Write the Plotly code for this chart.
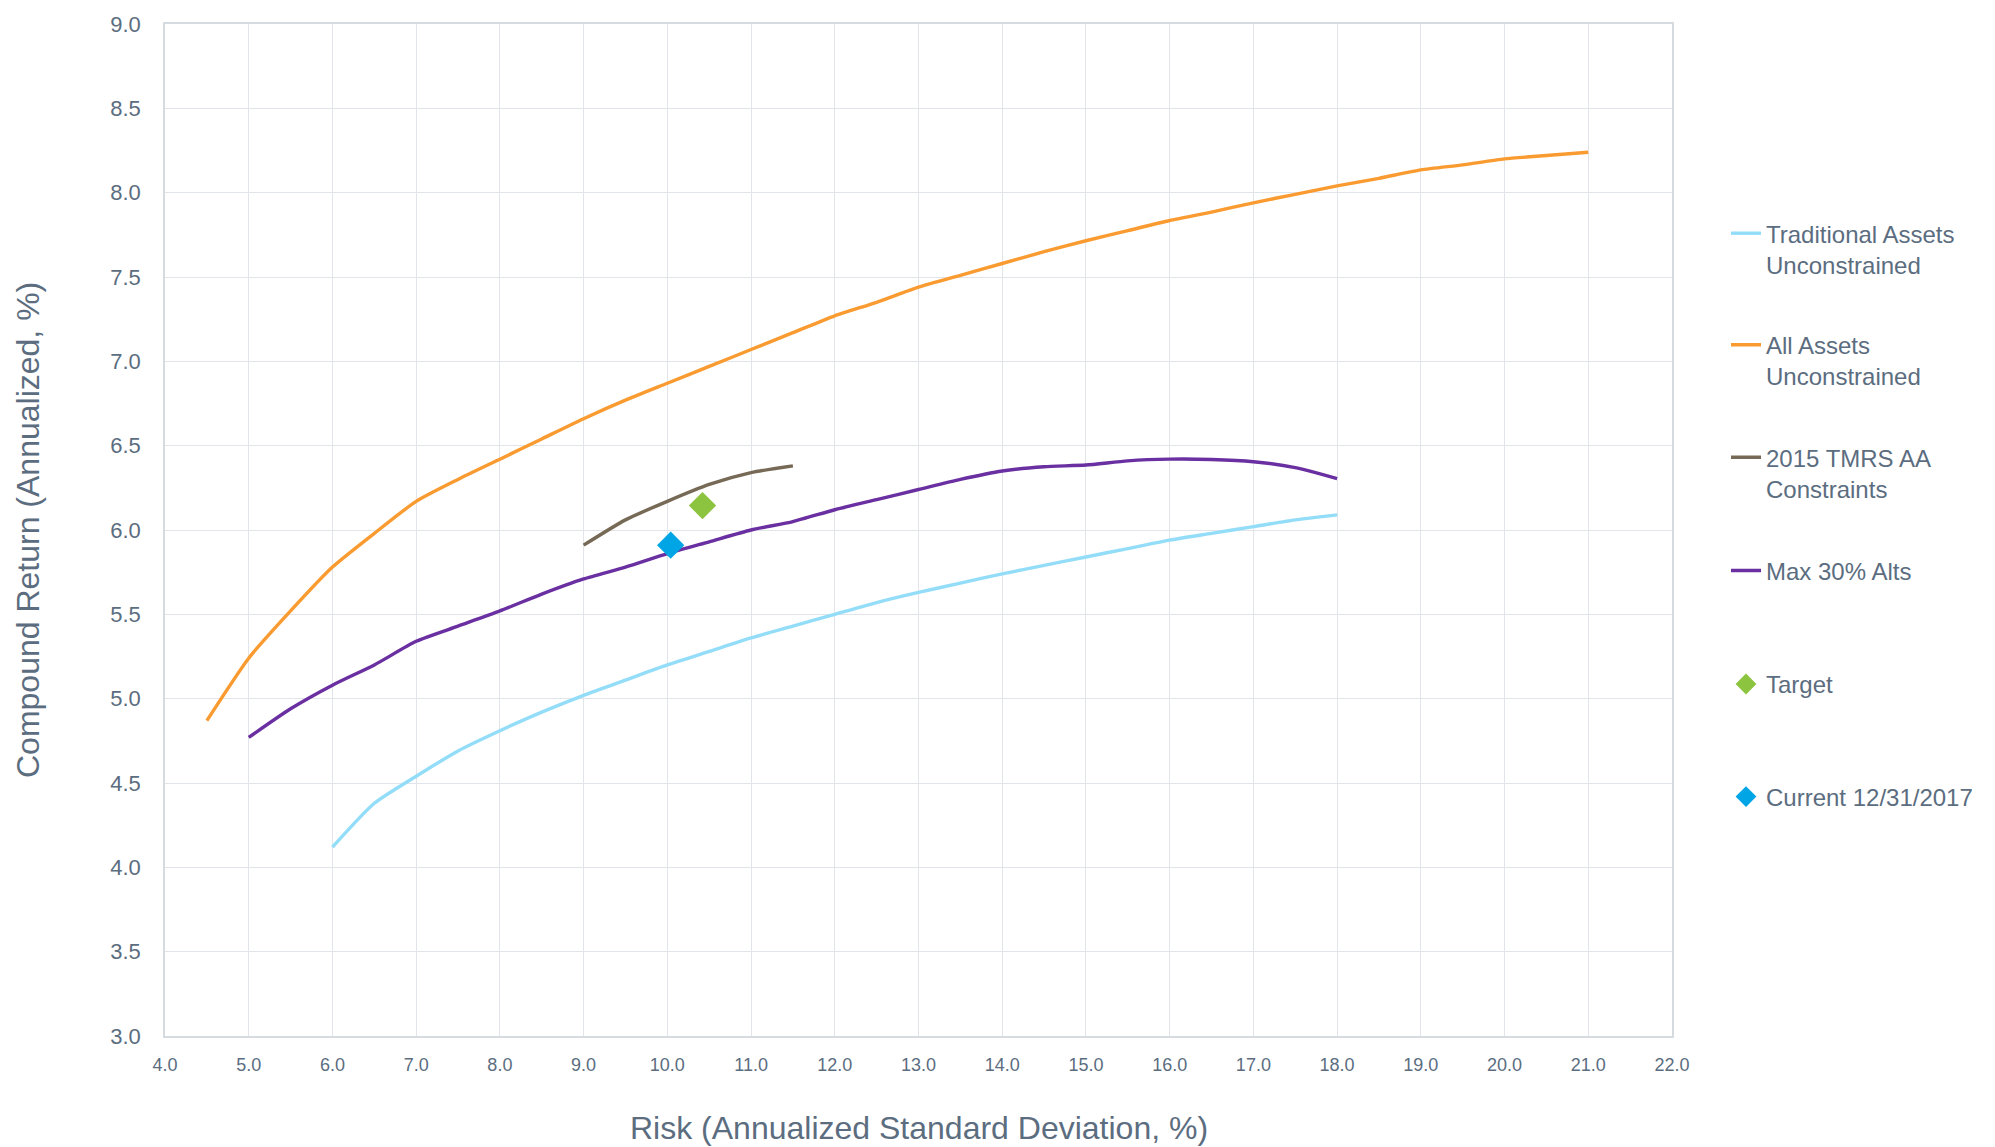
import plotly.graph_objects as go

# Efficient frontier curves: risk (x) vs compound return (y)
trad_risk = [6.0, 6.5, 7.0, 7.5, 8.0, 8.5, 9.0, 9.5, 10.0, 10.5, 11.0, 11.5, 12.0,
             12.5, 13.0, 13.5, 14.0, 14.5, 15.0, 15.5, 16.0, 16.5, 17.0, 17.5, 18.0]
trad_ret = [4.12, 4.38, 4.54, 4.69, 4.81, 4.92, 5.02, 5.11, 5.20, 5.28, 5.36, 5.43, 5.50,
            5.57, 5.63, 5.685, 5.74, 5.79, 5.84, 5.89, 5.94, 5.98, 6.02, 6.06, 6.09]

all_risk = [4.5, 5.0, 5.5, 6.0, 6.5, 7.0, 7.5, 8.0, 8.5, 9.0, 9.5, 10.0, 10.5, 11.0,
            11.5, 12.0, 12.5, 13.0, 13.5, 14.0, 14.5, 15.0, 15.5, 16.0, 16.5, 17.0,
            17.5, 18.0, 18.5, 19.0, 19.5, 20.0, 20.5, 21.0]
all_ret = [4.87, 5.24, 5.52, 5.78, 5.98, 6.17, 6.30, 6.42, 6.54, 6.66, 6.77, 6.87, 6.97, 7.07,
           7.17, 7.27, 7.35, 7.44, 7.51, 7.58, 7.65, 7.715, 7.775, 7.835, 7.885, 7.94,
           7.99, 8.04, 8.085, 8.135, 8.165, 8.20, 8.22, 8.24]

tmrs_risk = [9.0, 9.5, 10.0, 10.5, 11.0, 11.5]
tmrs_ret = [5.91, 6.06, 6.17, 6.27, 6.34, 6.38]

alts_risk = [5.0, 5.5, 6.0, 6.5, 7.0, 7.5, 8.0, 8.5, 9.0, 9.5, 10.0, 10.5, 11.0, 11.5,
             12.0, 12.5, 13.0, 13.5, 14.0, 14.5, 15.0, 15.5, 16.0, 16.5, 17.0, 17.5, 18.0]
alts_ret = [4.77, 4.94, 5.08, 5.20, 5.34, 5.43, 5.52, 5.62, 5.71, 5.78, 5.86, 5.93, 6.00, 6.05,
            6.12, 6.18, 6.24, 6.30, 6.35, 6.375, 6.385, 6.41, 6.42, 6.418, 6.405, 6.37, 6.305]

target_risk = [10.42]
target_ret = [6.145]
current_risk = [10.04]
current_ret = [5.91]

names = ["Traditional Assets<br>Unconstrained", "All Assets<br>Unconstrained",
         "2015 TMRS AA<br>Constraints", "Max 30% Alts", "Target", "Current 12/31/2017"]

x_ticks = [4.0 + i for i in range(19)]
y_ticks = [3.0 + 0.5 * i for i in range(13)]

TEXT = "#5B6D7F"
GRID = "#E1E5E9"
FONT = "Arial, Liberation Sans, sans-serif"

fig = go.Figure()

line_series = [
    (trad_risk, trad_ret, "#93DDF9"),
    (all_risk, all_ret, "#F99B30"),
    (tmrs_risk, tmrs_ret, "#766A56"),
    (alts_risk, alts_ret, "#6A2FA0"),
]
for i, (xs, ys, col) in enumerate(line_series):
    fig.add_trace(go.Scatter(
        x=xs, y=ys, mode="lines", name=names[i],
        line=dict(color=col, width=3.4, shape="spline", smoothing=0.6),
        legend="legend" if i == 0 else f"legend{i + 1}",
    ))

fig.add_trace(go.Scatter(
    x=target_risk, y=target_ret, mode="markers", name=names[4],
    marker=dict(symbol="diamond", size=21, color="#8DC43F"),
    legend="legend5",
))
fig.add_trace(go.Scatter(
    x=current_risk, y=current_ret, mode="markers", name=names[5],
    marker=dict(symbol="diamond", size=21, color="#00A5E6"),
    legend="legend6",
))

# plot area in pixels
L, R, T, B = 165, 1672, 20, 1036
W, H = 1995, 1147


def px_x(p):
    return (p - L) / (R - L)


def px_y(p):
    return (B - p) / (B - T)


legend_rows = [231, 343, 456, 569, 683, 796]
legend_cfg = {}
for i, row in enumerate(legend_rows):
    two_line = "<br>" in names[i]
    key = "legend" if i == 0 else f"legend{i + 1}"
    legend_cfg[key] = dict(
        x=px_x(1726), xanchor="left",
        y=px_y(row + (15 if two_line else 0)), yanchor="middle",
        font=dict(family=FONT, size=24, color=TEXT),
        bgcolor="rgba(0,0,0,0)", valign="top",
        itemclick=False, itemdoubleclick=False,
    )

fig.update_layout(
    width=W, height=H,
    margin=dict(l=L, r=W - R, t=T, b=H - B),
    paper_bgcolor="white", plot_bgcolor="white",
    showlegend=True,
    **legend_cfg,
    xaxis=dict(
        range=[4.0, 22.0], tickvals=x_ticks, ticktext=[f"{v:.1f}" for v in x_ticks],
        showgrid=True, gridcolor=GRID, gridwidth=1.4,
        showline=True, linecolor="#D6DBE0", linewidth=1.6, mirror=True,
        zeroline=False, ticks="", ticklabelstandoff=12,
        tickfont=dict(family=FONT, size=18, color=TEXT),
    ),
    yaxis=dict(
        range=[3.0, 9.0], tickvals=y_ticks, ticktext=[f"{v:.1f}" for v in y_ticks],
        showgrid=True, gridcolor=GRID, gridwidth=1.4,
        showline=True, linecolor="#D6DBE0", linewidth=1.6, mirror=True,
        zeroline=False, ticks="", ticklabelstandoff=18,
        tickfont=dict(family=FONT, size=22, color=TEXT),
    ),
    annotations=[
        dict(text="Risk (Annualized Standard Deviation, %)", xref="paper", yref="paper",
             x=0.5, y=px_y(1128), xanchor="center", yanchor="middle", showarrow=False,
             font=dict(family=FONT, size=32, color=TEXT)),
        dict(text="Compound Return (Annualized, %)", xref="paper", yref="paper",
             x=px_x(28), y=0.5, xanchor="center", yanchor="middle", showarrow=False,
             textangle=-90, font=dict(family=FONT, size=32, color=TEXT)),
    ],
)

fig.write_html("out.html")
